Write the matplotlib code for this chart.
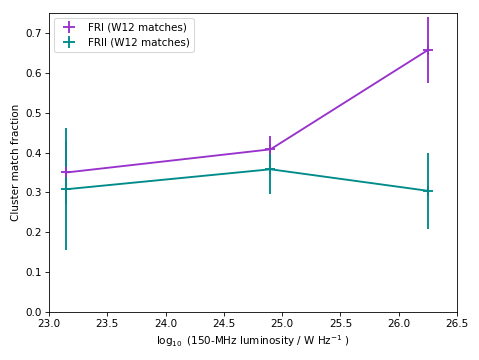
import matplotlib
matplotlib.use("Agg")
import matplotlib.pyplot as plt
from matplotlib.lines import Line2D

# log10 luminosity bin centres
lum = [23.15, 24.90, 26.25]

fri_frac = [0.350, 0.408, 0.657]
fri_err = [0.080, 0.034, 0.082]

frii_frac = [0.308, 0.358, 0.304]
frii_err = [0.153, 0.063, 0.095]

FRI_COLOR = "darkorchid"
FRII_COLOR = "darkcyan"

fig = plt.figure(figsize=(479 / 75, 360 / 75), dpi=75)
ax = fig.add_axes([49 / 479, 48 / 360, 408 / 479, 299 / 360])

ax.plot(lum, fri_frac, color=FRI_COLOR, linewidth=1.8)
ax.errorbar(lum, fri_frac, yerr=fri_err, fmt="+", color=FRI_COLOR,
            ms=10, mew=1.8, elinewidth=1.8)

ax.plot(lum, frii_frac, color=FRII_COLOR, linewidth=1.8)
ax.errorbar(lum, frii_frac, yerr=frii_err, fmt="+", color=FRII_COLOR,
            ms=10, mew=1.8, elinewidth=1.8)

handles = [
    Line2D([], [], color=FRI_COLOR, marker="+", linestyle="none", ms=11, mew=1.8),
    Line2D([], [], color=FRII_COLOR, marker="+", linestyle="none", ms=11, mew=1.8),
]
ax.legend(handles, ["FRI (W12 matches)", "FRII (W12 matches)"], loc="upper left")

ax.set_xlim(23.0, 26.5)
ax.set_ylim(0, 0.75)
ax.set_xlabel(r"$\log_{10}$ (150-MHz luminosity / W Hz$^{-1}$ )")
ax.set_ylabel("Cluster match fraction")

plt.savefig("out.png", dpi=75)
plt.close()
